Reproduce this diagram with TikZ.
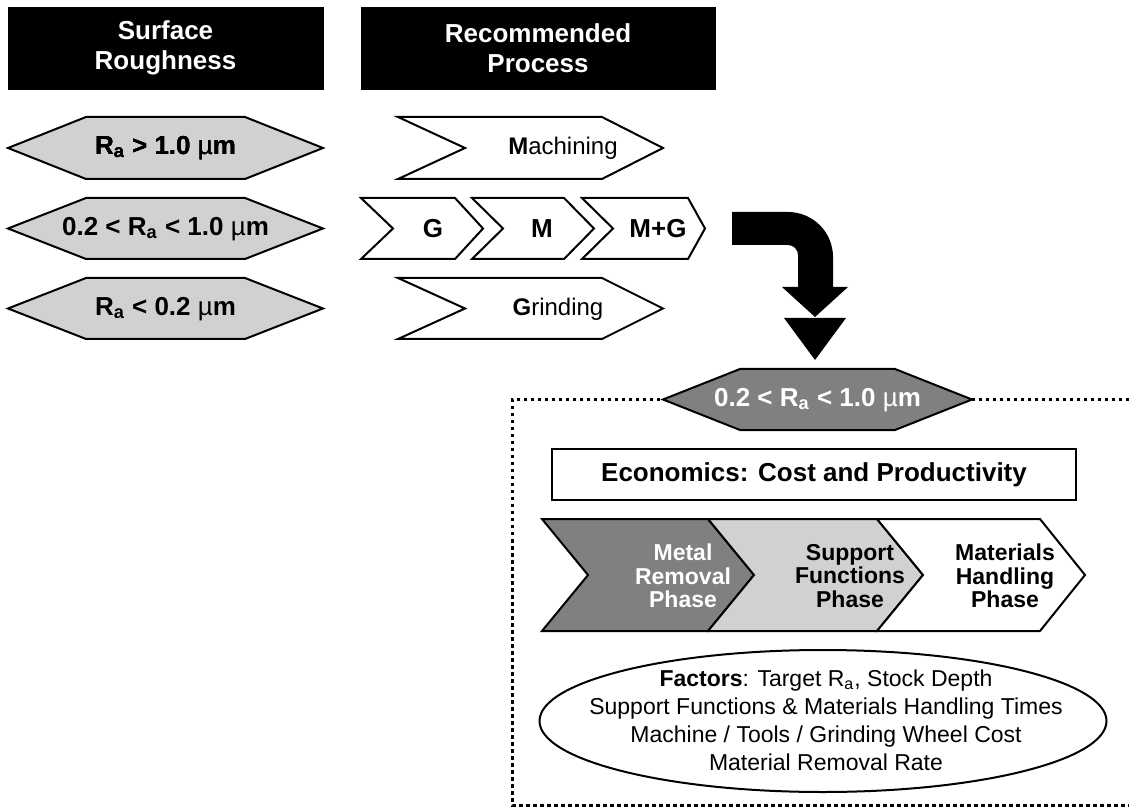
\documentclass[tikz,border=0pt]{standalone}
\usepackage{fontspec}
\setmainfont{Liberation Sans}
\usepackage{tikz}

\definecolor{lightgrayfill}{gray}{0.82}
\definecolor{darkgrayfill}{gray}{0.5}

% hexagon: style, left, right, top, bottom, point depth
\newcommand{\hexpath}[6]{%
  \path[#1] (#2,{(#4+#5)/2}) -- ({#2+#6},#4) -- ({#3-#6},#4) -- (#3,{(#4+#5)/2})
    -- ({#3-#6},#5) -- ({#2+#6},#5) -- cycle;}
% chevron: style, left, corner, top, bottom, notch depth, tip depth
\newcommand{\chevpath}[7]{%
  \path[#1] (#2,#4) -- (#3,#4) -- ({#3+#7},{(#4+#5)/2}) -- (#3,#5) -- (#2,#5)
    -- ({#2+#6},{(#4+#5)/2}) -- cycle;}
\newcommand{\um}{{\mdseries µ}m}

\begin{document}
\begin{tikzpicture}[
    x=0.5pt, y=-0.5pt,
    shapeline/.style={draw=black, line width=1pt, line join=miter},
    hexfill/.style={shapeline, fill=lightgrayfill},
    chevfill/.style={shapeline, fill=white},
    hdrbox/.style={draw=black, fill=black, text=white, align=center, inner sep=0pt, minimum height=41pt, font=\bfseries\fontsize{13}{15}\selectfont},
    lbl/.style={font=\bfseries\fontsize{13}{15}\selectfont},
    proc/.style={font=\fontsize{12}{14}\selectfont},
    phase/.style={align=center, font=\bfseries\fontsize{11.5}{11.8}\selectfont},
    dotline/.style={line width=1.5pt, dash pattern=on 1.75pt off 1.75pt},
]
\useasboundingbox (0,0) rectangle (1129,812);

% column headers
\node[hdrbox, minimum width=157.5pt] (roughhdr) at (165.5,48) {Surface\\Roughness};
\node[hdrbox, minimum width=177pt] (prochdr) at (538,48) {Recommended\\Process};

% roughness ranges
\foreach \yt/\yb in {117/179, 198/259, 278/339}
  \hexpath{hexfill}{8}{323}{\yt}{\yb}{78}
\node[lbl] (rahigh) at (165.5,148) {R\textsubscript{a} > 1.0 \um};
\node[lbl] (ramid) at (165.5,229) {0.2 < R\textsubscript{a} < 1.0 \um};
\node[lbl] (ralow) at (165.5,309) {R\textsubscript{a} < 0.2 \um};

% processes
\chevpath{chevfill}{398}{602}{117}{179}{67}{61}
\chevpath{chevfill}{398}{602}{278}{339}{67}{61}
\chevpath{chevfill}{361}{455}{198}{259}{32}{28}
\chevpath{chevfill}{472}{564}{198}{259}{31}{30}
\chevpath{chevfill}{582}{688}{198}{259}{31}{17}
\node[proc] (mach) at (563,148) {\textbf{M}achining};
\node[proc] (grind) at (558,309) {\textbf{G}rinding};
\node[lbl] (procg) at (433,229) {G};
\node[lbl] (procm) at (542,229) {M};
\node[lbl] (procmg) at (658,229) {M+G};

% bent arrow
\fill[black] (732,212) -- (788,212) arc[start angle=-90, end angle=0, radius=45]
  -- (833,287) -- (848,287) -- (815,317) -- (782,287) -- (798,287) -- (798,255)
  arc[start angle=0, end angle=-90, radius=10] -- (732,245) -- cycle;
\fill[black] (784,318) -- (846,318) -- (815,360) -- cycle;

% economics frame
\draw[dotline] (1129,400) -- (512,400) -- (512,805) -- (1129,805);
\hexpath{shapeline, fill=darkgrayfill}{663}{972}{369}{430}{77}
\node[lbl, text=white] (selrange) at (817.5,400) {0.2 < R\textsubscript{a} < 1.0 \um};
\node[draw, line width=1pt, minimum width=262pt, minimum height=25.5pt, lbl] (econ) at (814,474.5) {Economics: Cost and Productivity};

% phases
\chevpath{shapeline, fill=darkgrayfill}{542}{708}{519}{631}{46}{46}
\chevpath{shapeline, fill=lightgrayfill}{708}{877}{519}{631}{46}{46}
\chevpath{shapeline, fill=white}{877}{1040}{519}{631}{46}{45}
\node[phase, text=white] (metal) at (683,576) {Metal\\Removal\\Phase};
\node[phase] (support) at (850,576) {Support\\Functions\\Phase};
\node[phase] (handling) at (1005,576) {Materials\\Handling\\Phase};

% factors
\draw[shapeline, fill=white] (823,721) ellipse [x radius=283.5, y radius=71];
\node[align=center, font=\fontsize{11.5}{14}\selectfont] (factors) at (826,720)
  {\textbf{Factors}: Target R\textsubscript{a}, Stock Depth\\
   Support Functions \& Materials Handling Times\\
   Machine / Tools / Grinding Wheel Cost\\
   Material Removal Rate};
\end{tikzpicture}
\end{document}
